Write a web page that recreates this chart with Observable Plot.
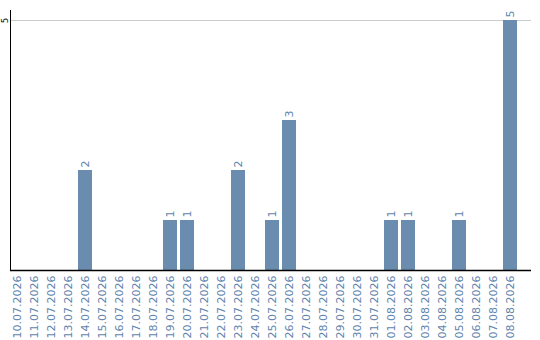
<!DOCTYPE html>
<html>
<head>
<meta charset="utf-8">
<script src="https://cdn.jsdelivr.net/npm/d3@7"></script>
<script src="https://cdn.jsdelivr.net/npm/@observablehq/plot@0.6"></script>
<style>
  html, body { margin: 0; padding: 0; background: #fff; }
  #chart svg { display: block; }
</style>
</head>
<body>
<div id="chart"></div>
<script>
// Daily counts, 10.07.2026 – 08.08.2026
const days = [
  "10.07.2026", "11.07.2026", "12.07.2026", "13.07.2026", "14.07.2026",
  "15.07.2026", "16.07.2026", "17.07.2026", "18.07.2026", "19.07.2026",
  "20.07.2026", "21.07.2026", "22.07.2026", "23.07.2026", "24.07.2026",
  "25.07.2026", "26.07.2026", "27.07.2026", "28.07.2026", "29.07.2026",
  "30.07.2026", "31.07.2026", "01.08.2026", "02.08.2026", "03.08.2026",
  "04.08.2026", "05.08.2026", "06.08.2026", "07.08.2026", "08.08.2026"
];
const counts = [
  0, 0, 0, 0, 2,
  0, 0, 0, 0, 1,
  1, 0, 0, 2, 0,
  1, 3, 0, 0, 0,
  0, 0, 1, 1, 0,
  0, 1, 0, 0, 5
];
const yTicks = [5];

const rows = days.map((day, i) => ({day, count: counts[i]}));
const barColor = "#6a8caf";
const labelColor = "#5f84ad";

const chart = Plot.plot({
  width: 540,
  height: 340,
  marginTop: 10,
  marginBottom: 70,
  marginLeft: 10,
  marginRight: 9,
  style: {fontFamily: "DejaVu Sans", background: "#fff"},
  x: {domain: days, range: [8, 518], paddingInner: 0.18, paddingOuter: 0.09},
  y: {domain: [0, 5.2]},
  marks: [
    Plot.ruleY(yTicks, {stroke: "#cccccc", strokeWidth: 1}),
    Plot.barY(rows, {x: "day", y: "count", fill: barColor}),
    Plot.text(rows.filter(d => d.count > 0), {
      x: "day", y: "count", text: d => String(d.count),
      rotate: -90, textAnchor: "start", lineAnchor: "middle",
      dy: -3, fill: labelColor, fontSize: 11
    }),
    Plot.ruleY([0], {stroke: "#000", strokeWidth: 1.5}),
    Plot.axisX({
      tickRotate: -90, tickSize: 0, tickPadding: 5,
      fontSize: 11, color: labelColor, label: null
    }),
    Plot.axisY(yTicks, {
      tickRotate: -90, tickSize: 0, tickPadding: 3,
      tickFormat: d => String(d),
      fontSize: 8, color: "#000", label: null
    }),
    Plot.frame({anchor: "left", stroke: "#000", strokeWidth: 1})
  ]
});
document.getElementById("chart").appendChild(chart);
</script>
</body>
</html>
